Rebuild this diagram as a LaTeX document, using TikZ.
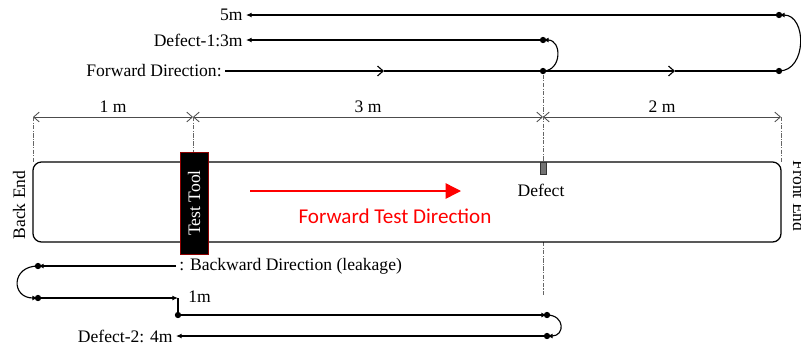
\documentclass[tikz,border=0pt]{standalone}
\usepackage{fontspec}
\setmainfont{Liberation Serif}
\newfontfamily\redfont{Carlito}
\usetikzlibrary{arrows.meta}
\tikzset{
  lbl/.style={font=\fontsize{12.5}{15}\selectfont,inner sep=2pt,text=black},
  dot/.style={circle,fill,inner sep=0pt,minimum size=4.5pt},
  guide/.style={densely dashdotted,line width=0.5pt,black!60},
  dimline/.style={{Straight Barb[length=4pt,width=7pt]}-{Straight Barb[length=4pt,width=7pt]},line width=0.6pt,black!70},
  back/.style={-{Latex[length=4pt,width=3.5pt]}},
  midarr/.style={-{Straight Barb[length=4pt,width=7pt]}}
}
\begin{document}
\begin{tikzpicture}[x=0.025cm,y=-0.025cm,line width=0.8pt]
\useasboundingbox (0,0) rectangle (801,343);
\def\xa{33}\def\xb{193}\def\xc{543}\def\xd{781}
% top: forward run and echoes
\node[lbl,anchor=east] (t5) at (246,15) {5m};
\node[lbl,anchor=east] (t3) at (246,40) {Defect-1:3m};
\node[lbl,anchor=east] (tf) at (225,71) {Forward Direction:};
\coordinate (m1) at (384,71);
\coordinate (m2) at (675,71);
\node[dot] (p1) at (\xc,71) {};
\node[dot] (p2) at (779,71) {};
\node[dot] (q1) at (\xc,40) {};
\node[dot] (q2) at (779,15) {};
\draw[midarr] (tf.east) -- (m1);
\draw (m1) -- (p1.center);
\draw[midarr] (p1.center) -- (m2);
\draw (m2) -- (p2.center);
\draw[back] (p1.center) .. controls (\xc+19,71) and (\xc+19,40) .. (q1.center);
\draw[back] (p2.center) .. controls (807,71) and (807,15) .. (q2.center);
\draw[back] (q1.center) -- (t3.east);
\draw[back] (q2.center) -- (t5.east);
% dimensions
\coordinate (d0) at (\xa,117);
\coordinate (d1) at (\xb,117);
\coordinate (d2) at (\xc,117);
\coordinate (d3) at (\xd,117);
\draw[dimline] (d0) -- node[lbl,above=1pt] {1 m} (d1);
\draw[dimline] (d1) -- node[lbl,above=1pt] {3 m} (d2);
\draw[dimline] (d2) -- node[lbl,above=1pt] {2 m} (d3);
\draw[guide] (d0) -- (\xa,162);
\draw[guide] (d1) -- (\xb,152);
\draw[guide] (p1) -- (\xc,162);
\draw[guide] (\xc,242) -- (\xc,296);
\draw[guide] (d3) -- (\xd,162);
% pipe
\draw[line width=0.9pt,rounded corners=6pt] (\xa,162) rectangle (\xd,242);
\node[lbl,rotate=90,anchor=base] (be) at (25,205) {Back End};
\node[lbl,rotate=-90,anchor=base] (fe) at (793,196) {Front End};
\filldraw[fill=black,draw=red!55!black,line width=0.6pt] (180,152) rectangle (208,254);
\node[lbl,rotate=90,text=white] (tool) at (194,203) {Test Tool};
\filldraw[fill=black!55,draw=black!80,line width=0.5pt] (540,162) rectangle (546,174);
\node[lbl] (def) at (541,190) {Defect};
\coordinate (r0) at (250,191);
\coordinate (r1) at (461,191);
\draw[red,line width=1pt,-{Triangle[length=11pt,width=11pt]}] (r0) -- (r1);
\node[text=red,font=\redfont\fontsize{15}{18}\selectfont] (fwd) at (395,216) {Forward Test Direction};
% bottom: backward run
\node[lbl,anchor=west] (tb) at (176,266) {: Backward Direction (leakage)};
\node[lbl,anchor=west] (t1) at (185,297) {1m};
\node[lbl,anchor=east] (t4) at (176,336) {Defect-2: 4m};
\node[dot] (b1) at (38,266) {};
\node[dot] (b2) at (38,298) {};
\coordinate (b3) at (178,298);
\node[dot] (b4) at (178,315) {};
\node[dot] (b5) at (547,315) {};
\node[dot] (b6) at (547,336) {};
\draw[back] (tb.west) -- (b1.center);
\draw[back] (b1.center) .. controls (11,266) and (11,298) .. (b2.center);
\draw[back] (b2.center) -- (b3);
\draw (b3) -- (b4.center);
\draw[back] (b4.center) -- (b5.center);
\draw[back] (b5.center) .. controls (565,315) and (565,336) .. (b6.center);
\draw[back] (b6.center) -- (t4.east);
\end{tikzpicture}
\end{document}
